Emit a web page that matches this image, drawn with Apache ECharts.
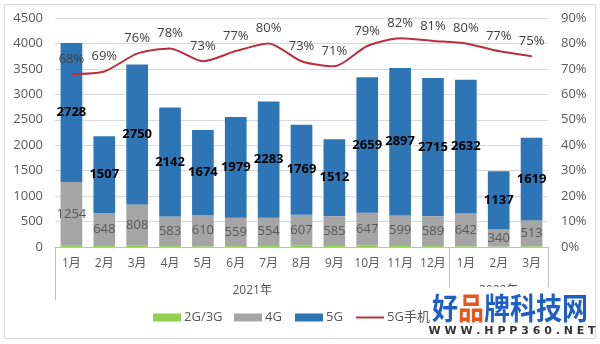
<!DOCTYPE html>
<html><head><meta charset="utf-8">
<script src="https://cdn.jsdelivr.net/npm/echarts@6/dist/echarts.min.js"></script>
<style>html,body{margin:0;padding:0;background:#fff}#c{width:600px;height:344px}</style>
</head><body><div id="c"></div>
<script>
const categories = ['1月','2月','3月','4月','5月','6月','7月','8月','9月','10月','11月','12月','1月','2月','3月'];
const yearGroups = [{name:'2021年', from:0, to:11}, {name:'2022年', from:12, to:14}];
const s2g3g = [25, 22, 28, 18, 15, 18, 22, 28, 22, 28, 22, 18, 15, 10, 15];
const s4g = [1254, 648, 808, 583, 610, 559, 554, 607, 585, 647, 599, 589, 642, 340, 513];
const s5g = [2728, 1507, 2750, 2142, 1674, 1979, 2283, 1769, 1512, 2659, 2897, 2715, 2632, 1137, 1619];
const s5gPhone = [68, 69, 76, 78, 73, 77, 80, 73, 71, 79, 82, 81, 80, 77, 75];
const legendNames = ['2G/3G', '4G', '5G', '5G手机'];

const chart = echarts.init(document.getElementById('c'), null, {renderer:'canvas'});
const FONT = '"Open Sans","Noto Sans CJK SC",sans-serif';
const LINE_COLOR = '#B8303F';
const legendLefts = [153, 234, 295, 355];
const legends = legendNames.map((n, i) => ({
  left: legendLefts[i], top: 311, itemWidth: 28, itemHeight: 8, padding: 0,
  textStyle: {color: '#595959', fontSize: 13, fontFamily: FONT, padding:[0,0,0,-2]},
  data: [i < 3 ? {name:n, icon:'rect'} : {name:n, itemStyle:{opacity:0}}]
}));
chart.setOption({
  animation: false,
  textStyle: {fontFamily: FONT},
  grid: {left: 55, right: 52, top: 18, bottom: 97},
  legend: legends,
  xAxis: {
    type: 'category', data: categories,
    axisLine: {lineStyle: {color: '#BFBFBF'}},
    axisTick: {show: false},
    axisLabel: {color: '#595959', fontSize: 12, margin: 11, interval: 0}
  },
  yAxis: [
    {type:'value', min:0, max:4500, interval:500,
     axisLine:{show:false}, axisTick:{show:false},
     axisLabel:{color:'#595959', fontSize:13, margin:12, formatter: v => String(v)},
     splitLine:{lineStyle:{color:'#D9D9D9'}}},
    {type:'value', min:0, max:90, interval:10,
     axisLine:{show:false}, axisTick:{show:false},
     axisLabel:{color:'#595959', fontSize:13, margin:13, formatter:'{value}%'},
     splitLine:{show:false}}
  ],
  series: [
    {name:'2G/3G', type:'bar', stack:'a', data:s2g3g, barWidth:'66%', itemStyle:{color:'#92D050'}},
    {name:'4G', type:'bar', stack:'a', data:s4g, itemStyle:{color:'#A5A5A5'},
     label:{show:true, position:'inside', color:'#595959', fontSize:13}},
    {name:'5G', type:'bar', stack:'a', data:s5g, itemStyle:{color:'#2E75B6'},
     label:{show:true, position:'inside', color:'#000', fontSize:13, fontWeight:'bold'}},
    {name:'5G手机', type:'line', yAxisIndex:1, data:s5gPhone, symbol:'circle', symbolSize:1, showSymbol:true, smooth:0.25,
     lineStyle:{color:LINE_COLOR, width:2}, itemStyle:{color:LINE_COLOR},
     label:{show:true, position:'top', distance:8, color:'#404040', fontSize:13, formatter:'{c}%'}}
  ]
});

function px(i){ return chart.convertToPixel({xAxisIndex:0}, i); }
const step = px(1) - px(0);
const y0 = chart.convertToPixel({yAxisIndex:0}, 0);
const graphics = [
  {type:'rect', shape:{x:4.5, y:4.5, width:591, height:334}, style:{fill:'none', stroke:'#D9D9D9', lineWidth:1}, silent:true, z:-1}
];
[0, 12, 15].forEach(b => {
  const x = Math.round(px(0) - step/2 + b*step) + 0.5;
  graphics.push({type:'line', shape:{x1:x, y1:y0, x2:x, y2:y0+53}, style:{stroke:'#BFBFBF', lineWidth:1}, silent:true});
});
yearGroups.forEach(g => {
  const cx = (px(g.from) + px(g.to)) / 2;
  graphics.push({type:'text', x:cx, y:y0+44, style:{text:g.name, fill:'#595959', font:'12px ' + FONT, textAlign:'center', textVerticalAlign:'middle'}});
});
// site logo watermark
graphics.push({type:'rect', shape:{x:430, y:287, width:162, height:50}, style:{fill:'#fff'}, z:10});
graphics.push({type:'text', x:432, y:308, scaleY:1.15, z:11, style:{rich:{
  b:{fill:'#1F5FC4', font:'bold 26px "Noto Sans CJK SC"'},
  o:{fill:'#E8561E', font:'bold 26px "Noto Sans CJK SC"'}}, text:'{b|好}{o|品}{b|牌科技网}', textVerticalAlign:'middle'}});
graphics.push({type:'text', x:512, y:331, z:11, style:{text:'W W W . H P P 3 6 0 . N E T', fill:'#333', font:'bold 11px "DejaVu Sans"', textAlign:'center', textVerticalAlign:'middle'}});
chart.setOption({graphic: graphics});
</script>
</body></html>
